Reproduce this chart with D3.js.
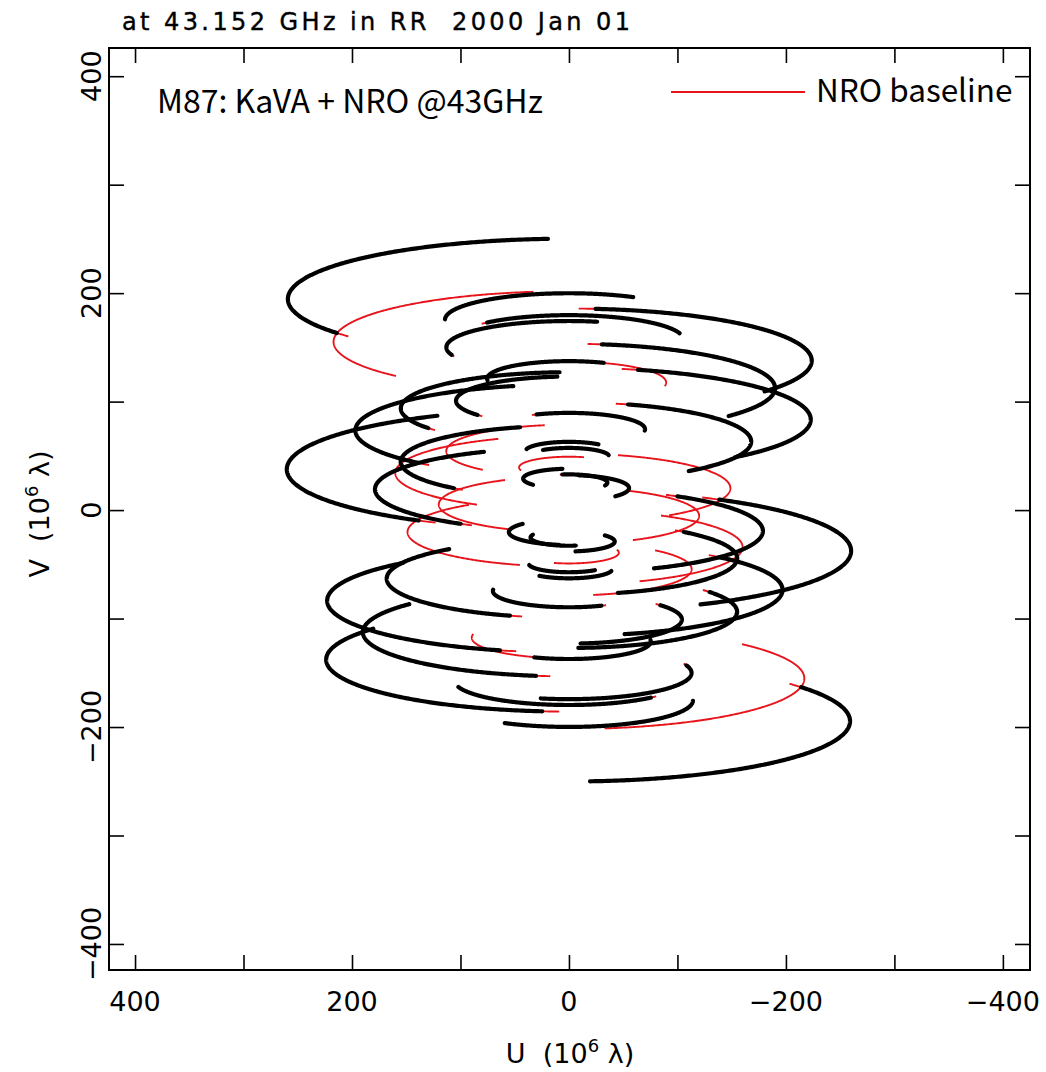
<!DOCTYPE html>
<html>
<head>
<meta charset="utf-8">
<script src="https://cdn.jsdelivr.net/npm/d3@7"></script>
<style>
  body { margin: 0; background: #fff; }
  svg { display: block; }
</style>
</head>
<body>
<svg id="uv" width="1046" height="1072"></svg>
<script>
// M87 uv-coverage, KaVA + NRO 45m at 43 GHz
// each baseline traces an ellipse: u = a sin(H + psi), v = v0 - b cos(H + psi)

const baselineNames = [
  "MIZ-KYS", "MIZ-NRO", "MIZ-KUS", "MIZ-KTN", "MIZ-IRK", "MIZ-OGA", "MIZ-ISG",
  "KYS-NRO", "KYS-KUS", "KYS-KTN", "KYS-IRK", "KYS-OGA", "KYS-ISG",
  "NRO-KUS", "NRO-KTN", "NRO-IRK", "NRO-OGA", "NRO-ISG",
  "KUS-KTN", "KUS-IRK", "KUS-OGA", "KUS-ISG",
  "KTN-IRK", "KTN-OGA", "KTN-ISG",
  "IRK-OGA", "IRK-ISG",
  "OGA-ISG"
];
// semi-axis along U (10^6 lambda)
const uSemi = [
  178.8, 46.0, 155.1, 196.9, 155.0, 105.8, 259.1,
  148.8, 35.4, 40.1, 70.1, 223.8, 114.3,
  120.0, 160.1, 113.1, 89.6, 217.0,
  42.2, 37.2, 190.0, 113.0,
  55.4, 222.9, 75.4,
  168.0, 104.1,
  260.1
];
// ellipse centre on the V axis (10^6 lambda)
const vCentre = [
  19.2, 39.3, 44.5, 73.5, 93.8, 157.0, 194.6,
  20.2, 25.3, 54.3, 74.6, 137.8, 175.4,
  5.2, 34.2, 54.4, 117.6, 155.2,
  29.0, 49.3, 112.5, 150.1,
  20.3, 83.5, 121.1,
  63.2, 100.8,
  37.6
];
// semi-axis along V (10^6 lambda)
const vSemi = [
  38.4, 9.9, 33.3, 42.3, 33.3, 22.7, 55.6,
  31.9, 7.6, 8.6, 15.0, 48.0, 24.5,
  25.8, 34.4, 24.3, 19.2, 46.6,
  9.1, 8.0, 40.8, 24.2,
  11.9, 47.8, 16.2,
  36.1, 22.3,
  55.8
];
// baseline position angle (deg)
const phaseDeg = [
  -131.0, -87.5, -121.9, -120.1, -108.2, -30.5, -109.3,
  36.7, 5.2, -62.3, -10.2, 21.3, -73.8,
  -134.4, -129.0, -116.4, -4.9, -113.7,
  -113.2, -24.9, 24.2, -91.7,
  24.6, 31.6, -79.9,
  33.9, -110.9,
  -132.8
];
// Greenwich hour angle ranges (deg)
const hourAngleAll = [161, 285];
const hourAngleKaVA = [165, 285];

const xTicks = d3.range(-400, 401, 100);
const yTicks = d3.range(-400, 401, 100);
const labelTicks = [-400, -200, 0, 200, 400];

const red = "#e8141c";

const svg = d3.select("#uv");
const frame = { left: 109, right: 1030, top: 48, bottom: 970 };

const x = d3.scaleLinear().domain([424, -425]).range([frame.left, frame.right]);
const y = d3.scaleLinear().domain([426, -424]).range([frame.top, frame.bottom]);

const line = d3.line()
  .x(d => x(d[0]))
  .y(d => y(d[1]));

// points of one track and of its conjugate
function track(i, range, sign) {
  let pts = [];
  for (let h = range[0]; h <= range[1] + 1e-9; h += 0.5) {
    let t = (h + phaseDeg[i]) * Math.PI / 180;
    let u = uSemi[i] * Math.sin(t);
    let v = vCentre[i] - vSemi[i] * Math.cos(t);
    pts.push([sign * u, sign * v]);
  }
  return pts;
}

let tracks = svg.append("g");

let redData = [];
baselineNames.forEach((n, i) => {
  redData.push(track(i, hourAngleAll, 1));
  redData.push(track(i, hourAngleAll, -1));
});
tracks.append("g")
  .selectAll("path")
  .data(redData)
  .enter()
  .append("path")
  .attr("d", line)
  .attr("fill", "none")
  .attr("stroke", red)
  .attr("stroke-width", 1.9);

let blackData = [];
baselineNames.forEach((n, i) => {
  if (n.indexOf("NRO") >= 0) return;
  blackData.push(track(i, hourAngleKaVA, 1));
  blackData.push(track(i, hourAngleKaVA, -1));
});
tracks.append("g")
  .selectAll("path")
  .data(blackData)
  .enter()
  .append("path")
  .attr("d", line)
  .attr("fill", "none")
  .attr("stroke", "#000")
  .attr("stroke-width", 4.2)
  .attr("stroke-linecap", "round");

// axes: inward ticks on all four sides
const tick = 15;
let axes = svg.append("g").attr("class", "axes");
axes.append("g").attr("transform", `translate(0,${frame.bottom})`)
  .call(d3.axisBottom(x).tickValues(xTicks).tickSizeInner(-tick).tickSizeOuter(0).tickFormat(""));
axes.append("g").attr("transform", `translate(0,${frame.top})`)
  .call(d3.axisTop(x).tickValues(xTicks).tickSizeInner(-tick).tickSizeOuter(0).tickFormat(""));
axes.append("g").attr("transform", `translate(${frame.left},0)`)
  .call(d3.axisLeft(y).tickValues(yTicks).tickSizeInner(-tick).tickSizeOuter(0).tickFormat(""));
axes.append("g").attr("transform", `translate(${frame.right},0)`)
  .call(d3.axisRight(y).tickValues(yTicks).tickSizeInner(-tick).tickSizeOuter(0).tickFormat(""));
axes.selectAll(".domain").remove();
axes.selectAll(".tick line").attr("stroke", "#000").attr("stroke-width", 1.6);

svg.append("rect")
  .attr("x", frame.left).attr("y", frame.top)
  .attr("width", frame.right - frame.left).attr("height", frame.bottom - frame.top)
  .attr("fill", "none").attr("stroke", "#000").attr("stroke-width", 2);

const tickFont = "DejaVu Sans";
const fmt = d3.format("d");

svg.append("g")
  .selectAll("text")
  .data(labelTicks)
  .enter()
  .append("text")
  .attr("x", d => x(d))
  .attr("y", 1011)
  .attr("text-anchor", "middle")
  .attr("font-family", tickFont)
  .attr("font-size", 27)
  .text(d => fmt(d));

svg.append("g")
  .selectAll("text")
  .data(labelTicks)
  .enter()
  .append("text")
  .attr("transform", d => `translate(101,${y(d)}) rotate(-90)`)
  .attr("text-anchor", "middle")
  .attr("font-family", tickFont)
  .attr("font-size", 27)
  .text(d => fmt(d));

// axis titles
let xt = svg.append("text")
  .attr("x", 570).attr("y", 1063)
  .attr("text-anchor", "middle")
  .attr("font-family", tickFont).attr("font-size", 27)
  .attr("xml:space", "preserve");
xt.append("tspan").text("U  (10");
xt.append("tspan").attr("dy", -11).attr("font-size", 18).text("6");
xt.append("tspan").attr("dy", 11).text(" \u03bb)");

let yt = svg.append("text")
  .attr("transform", "translate(49,514) rotate(-90)")
  .attr("text-anchor", "middle")
  .attr("font-family", tickFont).attr("font-size", 27)
  .attr("xml:space", "preserve");
yt.append("tspan").text("V  (10");
yt.append("tspan").attr("dy", -11).attr("font-size", 18).text("6");
yt.append("tspan").attr("dy", 11).text(" \u03bb)");

// header
svg.append("text")
  .attr("x", 122).attr("y", 30)
  .attr("font-family", tickFont).attr("font-size", 24)
  .attr("stroke", "#000").attr("stroke-width", 0.4)
  .attr("textLength", 508).attr("lengthAdjust", "spacing")
  .attr("xml:space", "preserve")
  .text("at 43.152 GHz in RR  2000 Jan 01");

// annotation and legend
svg.append("text")
  .attr("x", 157).attr("y", 113)
  .attr("font-family", "Noto Sans CJK JP").attr("font-size", 32)
  .text("M87: KaVA + NRO @43GHz");

svg.append("line")
  .attr("x1", 671).attr("x2", 805).attr("y1", 92).attr("y2", 92)
  .attr("stroke", red).attr("stroke-width", 1.9);
svg.append("text")
  .attr("x", 816).attr("y", 102)
  .attr("font-family", "Noto Sans CJK JP").attr("font-size", 31.5)
  .text("NRO baseline");
</script>
</body>
</html>
